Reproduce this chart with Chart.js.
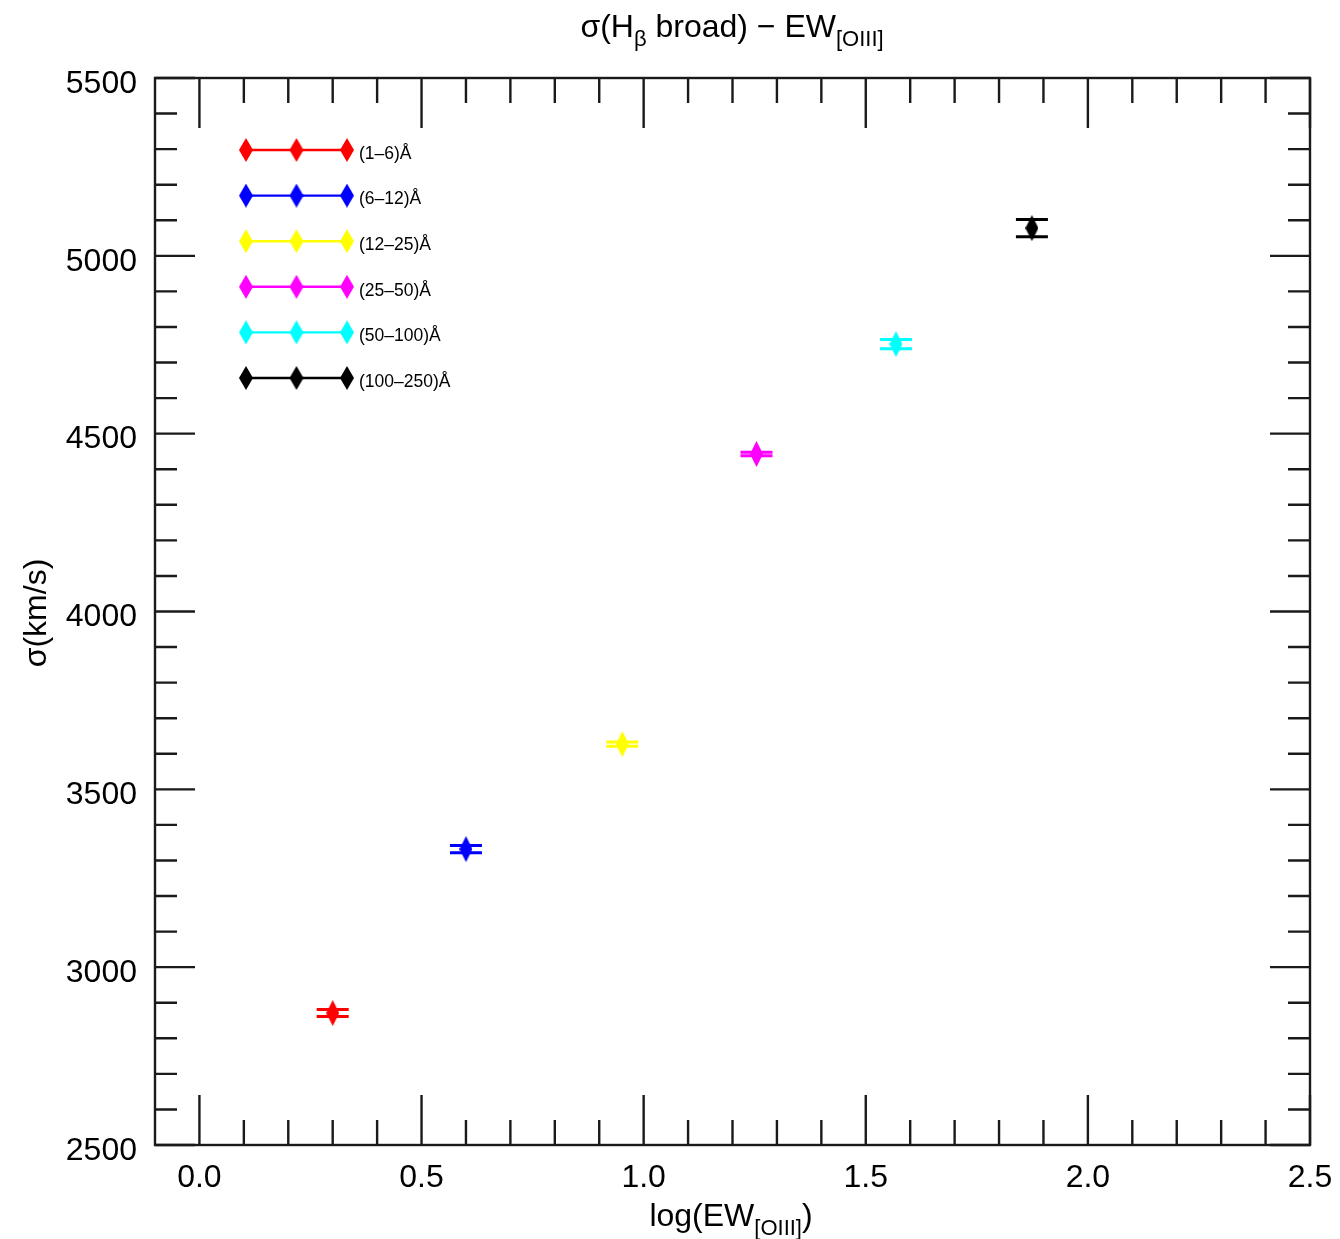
<!DOCTYPE html>
<html>
<head>
<meta charset="utf-8">
<title>sigma(Hb broad) vs EW[OIII]</title>
<script src="https://cdn.jsdelivr.net/npm/chart.js@4.4.1/dist/chart.umd.min.js"></script>
<style>
    html, body { margin: 0; padding: 0; background: #fff; overflow: hidden; }
    #wrap { width: 1340px; height: 1239px; position: relative; }
</style>
</head>
<body>
<div id="wrap"><canvas id="sigmaChart"></canvas></div>
<script>
// EW[OIII] bins and measured broad Hbeta widths
const binLabels = ['(1–6)Å', '(6–12)Å', '(12–25)Å', '(25–50)Å', '(50–100)Å', '(100–250)Å'];
const logEW = [0.300, 0.600, 0.952, 1.254, 1.568, 1.874];
const sigma = [2871, 3332, 3627, 4443, 4752, 5078];
const sigmaErr = [10, 10, 6, 5, 13, 24];
const binColors = ['#ff0000', '#0000ff', '#ffff00', '#ff00ff', '#00ffff', '#000000'];

// Axis tick labels
const xTickValues = [0.0, 0.5, 1.0, 1.5, 2.0, 2.5];
const yTickValues = [2500, 3000, 3500, 4000, 4500, 5000, 5500];

const FONT = '"Liberation Sans", Arial, Helvetica, sans-serif';

// Tall diamond used as point marker
function makeDiamond(color, w, h) {
    const c = document.createElement('canvas');
    c.width = w;
    c.height = h;
    const g = c.getContext('2d');
    g.fillStyle = color;
    g.beginPath();
    g.moveTo(w / 2, 0);
    g.lineTo(w, h / 2);
    g.lineTo(w / 2, h);
    g.lineTo(0, h / 2);
    g.closePath();
    g.fill();
    return c;
}

// Draw text with an optional lowered subscript, centred on cx
function drawRich(ctx, parts, cx, baseline) {
    let total = 0;
    parts.forEach(p => {
        ctx.font = p.size + 'px ' + FONT;
        p.w = ctx.measureText(p.text).width;
        total += p.w;
    });
    let x = cx - total / 2;
    ctx.textAlign = 'left';
    ctx.textBaseline = 'alphabetic';
    parts.forEach(p => {
        ctx.font = p.size + 'px ' + FONT;
        ctx.fillText(p.text, x, baseline + (p.dy || 0));
        x += p.w;
    });
}

// Vertical error bars with caps, drawn under the markers
const errorBars = {
    id: 'errorBars',
    beforeDatasetsDraw(chart) {
        const ctx = chart.ctx;
        const xs = chart.scales.x, ys = chart.scales.y;
        ctx.save();
        ctx.lineWidth = 3;
        chart.data.datasets.forEach((ds, i) => {
            const px = xs.getPixelForValue(logEW[i]);
            const top = ys.getPixelForValue(sigma[i] + sigmaErr[i]);
            const bot = ys.getPixelForValue(sigma[i] - sigmaErr[i]);
            ctx.strokeStyle = ds.borderColor;
            ctx.beginPath();
            ctx.moveTo(px, top); ctx.lineTo(px, bot);
            ctx.moveTo(px - 16, top); ctx.lineTo(px + 16, top);
            ctx.moveTo(px - 16, bot); ctx.lineTo(px + 16, bot);
            ctx.stroke();
        });
        ctx.restore();
    }
};

// Box frame, inward ticks on all four sides, titles and the legend
const frame = {
    id: 'frame',
    afterDraw(chart) {
        const ctx = chart.ctx;
        const a = chart.chartArea;
        const xs = chart.scales.x, ys = chart.scales.y;
        ctx.save();
        ctx.strokeStyle = '#1a1a1a';
        ctx.lineWidth = 2.4;
        ctx.strokeRect(a.left, a.top, a.right - a.left, a.bottom - a.top);

        ctx.beginPath();
        for (let i = 0; i <= 25; i++) {
            const px = xs.getPixelForValue(i / 10);
            const len = i % 5 === 0 ? 50 : 25;
            ctx.moveTo(px, a.bottom); ctx.lineTo(px, a.bottom - len);
            ctx.moveTo(px, a.top); ctx.lineTo(px, a.top + len);
        }
        for (let v = 2500; v <= 5500; v += 100) {
            const py = ys.getPixelForValue(v);
            const len = v % 500 === 0 ? 40 : 22;
            ctx.moveTo(a.left, py); ctx.lineTo(a.left + len, py);
            ctx.moveTo(a.right, py); ctx.lineTo(a.right - len, py);
        }
        ctx.stroke();

        // titles
        ctx.fillStyle = '#000';
        drawRich(ctx, [
            { text: 'σ(H', size: 32 },
            { text: 'β', size: 22, dy: 9 },
            { text: ' broad) − EW', size: 32 },
            { text: '[OIII]', size: 22, dy: 9 }
        ], 732, 37);
        drawRich(ctx, [
            { text: 'log(EW', size: 32 },
            { text: '[OIII]', size: 22, dy: 9 },
            { text: ')', size: 32 }
        ], 731, 1226);

        ctx.save();
        ctx.translate(46, 613);
        ctx.rotate(-Math.PI / 2);
        ctx.font = '32px ' + FONT;
        ctx.textAlign = 'center';
        ctx.textBaseline = 'alphabetic';
        ctx.fillText('σ(km/s)', 0, 0);
        ctx.restore();

        // legend: line with three diamonds per bin
        chart.data.datasets.forEach((ds, i) => {
            const y = 150 + i * 45.6;
            ctx.strokeStyle = ds.borderColor;
            ctx.lineWidth = 2.4;
            ctx.beginPath();
            ctx.moveTo(246, y); ctx.lineTo(347, y);
            ctx.stroke();
            [246, 296.5, 347].forEach(x => {
                ctx.drawImage(ds.legendMarker, x - 7, y - 12);
            });
            ctx.fillStyle = '#000';
            ctx.font = '17.5px ' + FONT;
            ctx.textAlign = 'left';
            ctx.textBaseline = 'middle';
            ctx.fillText(ds.label, 359, y + 4);
        });
        ctx.restore();
    }
};

const datasets = binLabels.map((label, i) => ({
    label: label,
    data: [{ x: logEW[i], y: sigma[i] }],
    borderColor: binColors[i],
    backgroundColor: binColors[i],
    pointStyle: makeDiamond(binColors[i], 13, 26),
    legendMarker: makeDiamond(binColors[i], 14, 24),
    pointRadius: 6,
    showLine: false
}));

function setTicks(values) {
    return scale => { scale.ticks = values.map(v => ({ value: v })); };
}

new Chart(document.getElementById('sigmaChart'), {
    type: 'scatter',
    data: { datasets: datasets },
    options: {
        responsive: true,
        maintainAspectRatio: false,
        animation: false,
        layout: { padding: { top: 78, right: 30, left: 0, bottom: 0 } },
        plugins: {
            legend: { display: false },
            tooltip: { enabled: false },
            title: { display: false }
        },
        scales: {
            x: {
                type: 'linear',
                min: -0.1,
                max: 2.5,
                afterBuildTicks: setTicks(xTickValues),
                afterFit: scale => {
                    scale.height = 94;
                    scale.paddingLeft = 0;
                    scale.paddingRight = 0;
                },
                grid: { display: false, drawTicks: false },
                border: { display: false },
                ticks: {
                    padding: 14,
                    color: '#000',
                    maxRotation: 0,
                    autoSkip: false,
                    font: { family: FONT, size: 32 },
                    callback: v => v.toFixed(1)
                }
            },
            y: {
                type: 'linear',
                min: 2500,
                max: 5500,
                afterBuildTicks: setTicks(yTickValues),
                afterFit: scale => {
                    scale.width = 155;
                    scale.paddingTop = 0;
                    scale.paddingBottom = 0;
                },
                grid: { display: false, drawTicks: false },
                border: { display: false },
                ticks: {
                    padding: 18,
                    labelOffset: 6,
                    color: '#000',
                    autoSkip: false,
                    font: { family: FONT, size: 32 },
                    callback: v => String(v)
                }
            }
        }
    },
    plugins: [errorBars, frame]
});
</script>
</body>
</html>
